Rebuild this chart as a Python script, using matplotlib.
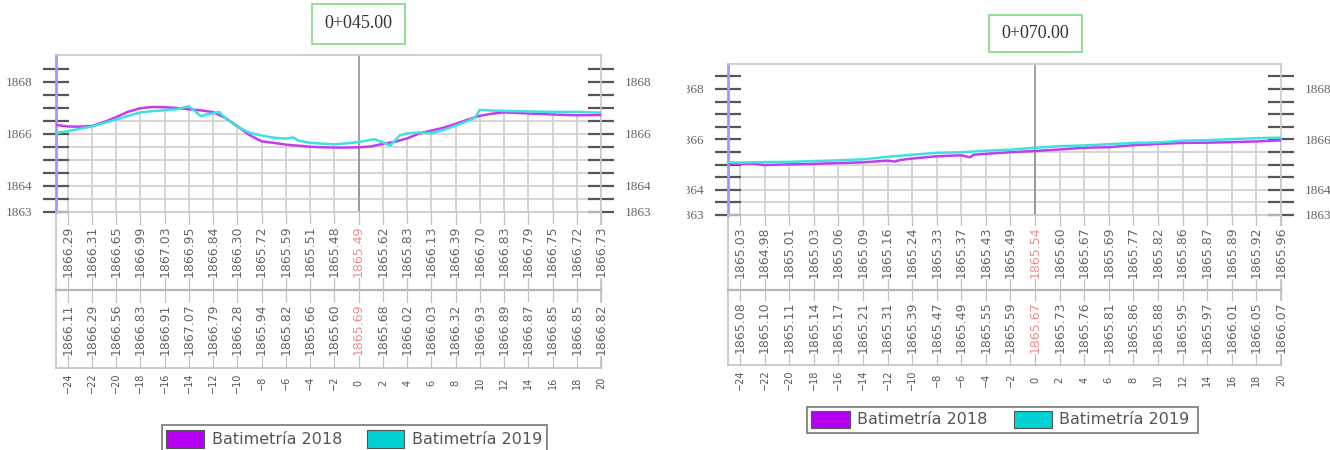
import numpy as np
import matplotlib.pyplot as plt
from matplotlib.patches import Rectangle, Polygon
from matplotlib.transforms import blended_transform_factory, Bbox, TransformedBbox

W, H = 1330, 450

# stations along the cross sections (m)
stations = list(range(-24, 21, 2))

# section 0+045.00 : elevations printed in the table
sec1_tab_2018 = [1866.29, 1866.31, 1866.65, 1866.99, 1867.03, 1866.95, 1866.84, 1866.30,
                 1865.72, 1865.59, 1865.51, 1865.48, 1865.49, 1865.62, 1865.83, 1866.13,
                 1866.39, 1866.70, 1866.83, 1866.79, 1866.75, 1866.72, 1866.73]
sec1_tab_2019 = [1866.11, 1866.29, 1866.56, 1866.83, 1866.91, 1867.07, 1866.79, 1866.28,
                 1865.94, 1865.82, 1865.66, 1865.60, 1865.69, 1865.68, 1866.02, 1866.03,
                 1866.32, 1866.93, 1866.89, 1866.87, 1866.85, 1866.85, 1866.82]

# section 0+045.00 : surveyed profiles
sec1_x_2018 = [-25, -24, -23, -22, -21, -20, -19, -18, -17, -16, -15, -14, -13, -12, -11,
               -10, -9, -8, -7, -6, -5, -4, -3, -2, -1, 0, 1, 2, 3, 4, 5, 6, 7, 8, 9, 10,
               11, 12, 14, 16, 18, 20]
sec1_z_2018 = [1866.35, 1866.29, 1866.28, 1866.31, 1866.46, 1866.65, 1866.86, 1866.99,
               1867.04, 1867.03, 1867.00, 1866.95, 1866.91, 1866.84, 1866.62, 1866.30,
               1865.96, 1865.72, 1865.66, 1865.59, 1865.55, 1865.51, 1865.49, 1865.48,
               1865.48, 1865.49, 1865.52, 1865.62, 1865.70, 1865.83, 1866.02, 1866.13,
               1866.24, 1866.39, 1866.55, 1866.70, 1866.78, 1866.83, 1866.79, 1866.75,
               1866.72, 1866.73]
sec1_x_2019 = [-25, -24, -23, -22, -21, -20, -19, -18, -17, -16, -15, -14, -13, -12.5, -12,
               -11.5, -11, -10, -9, -8, -7, -6, -5.4, -5, -4, -3, -2, -1, 0, 1.3, 2, 2.6,
               3.4, 4, 5, 6, 7, 8, 9, 9.6, 10, 11, 12, 14, 16, 18, 20]
sec1_z_2019 = [1866.03, 1866.11, 1866.20, 1866.29, 1866.42, 1866.56, 1866.70, 1866.83,
               1866.88, 1866.91, 1866.95, 1867.07, 1866.68, 1866.76, 1866.79, 1866.85,
               1866.62, 1866.28, 1866.05, 1865.94, 1865.86, 1865.82, 1865.87, 1865.75,
               1865.66, 1865.63, 1865.60, 1865.64, 1865.69, 1865.80, 1865.68, 1865.55,
               1865.95, 1866.02, 1866.06, 1866.03, 1866.15, 1866.32, 1866.50, 1866.62,
               1866.93, 1866.90, 1866.89, 1866.87, 1866.85, 1866.85, 1866.82]

# section 0+070.00 : elevations printed in the table
sec2_tab_2018 = [1865.03, 1864.98, 1865.01, 1865.03, 1865.06, 1865.09, 1865.16, 1865.24,
                 1865.33, 1865.37, 1865.43, 1865.49, 1865.54, 1865.60, 1865.67, 1865.69,
                 1865.77, 1865.82, 1865.86, 1865.87, 1865.89, 1865.92, 1865.96]
sec2_tab_2019 = [1865.08, 1865.10, 1865.11, 1865.14, 1865.17, 1865.21, 1865.31, 1865.39,
                 1865.47, 1865.49, 1865.55, 1865.59, 1865.67, 1865.73, 1865.76, 1865.81,
                 1865.86, 1865.88, 1865.95, 1865.97, 1866.01, 1866.05, 1866.07]

# section 0+070.00 : surveyed profiles
sec2_x_2018 = [-25, -24, -23, -22, -20, -18, -16, -14, -12, -11.4, -11, -10, -8, -6, -5.3,
               -5, -4, -2, 0, 2, 4, 6, 8, 10, 12, 14, 16, 18, 20]
sec2_z_2018 = [1865.05, 1865.03, 1865.04, 1864.98, 1865.01, 1865.03, 1865.06, 1865.09,
               1865.16, 1865.12, 1865.18, 1865.24, 1865.33, 1865.37, 1865.29, 1865.39,
               1865.43, 1865.49, 1865.54, 1865.60, 1865.67, 1865.69, 1865.77, 1865.82,
               1865.86, 1865.87, 1865.89, 1865.92, 1865.96]
sec2_x_2019 = [-25] + stations
sec2_z_2019 = [1865.09] + sec2_tab_2019

C2018 = '#c23cf2'
C2019 = '#3fe0e0'
GREY_TXT = '#666666'

fig = plt.figure(figsize=(W / 100, H / 100), dpi=100)


def fx(px):
    return px / W


def fy(py):
    return 1 - py / H


def fig_rect(x0, y0, x1, y1, **kw):
    r = Rectangle((fx(x0), fy(y1)), fx(x1) - fx(x0), fy(y0) - fy(y1),
                  transform=fig.transFigure, **kw)
    fig.add_artist(r)
    return r


def draw_section(box, ymax, mid_y, bot_y, lab_y, title, title_box,
                 x18, z18, x19, z19, tab18, tab19, legend, clip_left=None):
    left, top, right, bottom = box
    ax = fig.add_axes([fx(left), fy(bottom), fx(right) - fx(left), fy(top) - fy(bottom)])
    ax.set_xlim(-25, 20)
    ax.set_ylim(1863, ymax)

    # grid only below the ground line
    xs = np.union1d(x18, x19)
    env = np.minimum(np.interp(xs, x18, z18), np.interp(xs, x19, z19))
    ground = Polygon(np.column_stack([np.r_[xs, 20, -25], np.r_[env, 1863, 1863]]),
                     closed=True, transform=ax.transData, fc='none', ec='none')
    ax.add_patch(ground)
    vl = ax.vlines(stations, 1863, ymax, colors='#d2d2d2', lw=1.3, zorder=1)
    vl.set_clip_path(ground)
    hl = ax.hlines(np.arange(1863.5, 1869, 0.5), -25, 20, colors='#d2d2d2', lw=1.3, zorder=1)
    hl.set_clip_path(ground)

    ax.axvline(0, color='#8a8a8a', lw=1.1, zorder=2)

    ax.plot(x18, z18, color=C2018, lw=1.8, zorder=3)
    ax.plot(x19, z19, color=C2019, lw=1.8, zorder=4)

    for side in ('top', 'bottom', 'right'):
        ax.spines[side].set_color('#c8c8c8')
        ax.spines[side].set_linewidth(1.2)
    ax.spines['left'].set_color('#9a9aff')
    ax.spines['left'].set_linewidth(2)

    ax.set_xticks([])
    yt = np.arange(1863, 1869, 0.5)
    ax.set_yticks(yt)
    ax.set_yticklabels([f'{v:.0f}' if v in (1863, 1864, 1866, 1868) else '' for v in yt],
                       fontfamily='Liberation Serif')
    ax.tick_params(axis='y', direction='inout', length=19, width=1.6, color='#555555',
                   left=True, right=True, labelleft=True, labelright=True, pad=7.5,
                   labelsize=9.5, labelcolor=GREY_TXT)
    if clip_left is not None:
        cb = TransformedBbox(Bbox.from_extents(fx(clip_left), 0, 1, 1), fig.transFigure)
        for t in ax.yaxis.get_major_ticks():
            t.label1.set_clip_on(True)
            t.label1.set_clip_box(cb)

    # elevation table under the plot
    tr = blended_transform_factory(ax.transData, fig.transFigure)
    frame = dict(transform=tr, clip_on=False, color='#c4c4c4', lw=1.2)
    ax.plot([-25, -25], [fy(bottom), fy(bot_y)], **frame)
    ax.plot([20, 20], [fy(bottom), fy(bot_y)], **frame)
    ax.plot([-25, 20], [fy(bot_y), fy(bot_y)], **frame)
    ax.plot([-25, 20], [fy(mid_y), fy(mid_y)], transform=tr, clip_on=False,
            color='#b4b4b4', lw=1.6)
    for s in stations:
        ax.plot([s, s], [fy(bottom), fy(bot_y)], transform=tr, clip_on=False,
                color='#c0c0c0', lw=0.9)

    row1 = (bottom + mid_y) / 2
    row2 = (mid_y + bot_y) / 2
    for s, v18, v19 in zip(stations, tab18, tab19):
        col = '#f28c8c' if s == 0 else GREY_TXT
        for yrow, v in ((row1, v18), (row2, v19)):
            ax.text(s, fy(yrow), f'{v:.2f}', transform=tr, rotation=90, ha='center',
                    va='center', fontsize=9, color=col, family='DejaVu Sans',
                    clip_on=False, bbox=dict(fc='white', ec='none', pad=0.5))
        ax.text(s, fy(lab_y), f'{s}'.replace('-', '\u2212'), transform=tr, rotation=90,
                ha='center', va='center', fontsize=7, color='#555555', clip_on=False)

    # section title
    x0, y0, x1, y1 = title_box
    fig_rect(x0, y0, x1, y1, fc='white', ec='#88de88', lw=1.3)
    fig.text(fx((x0 + x1) / 2), fy((y0 + y1) / 2), title, ha='center', va='center',
             fontsize=13, family='Liberation Serif', color='#333333')

    # legend
    (bx0, by0, bx1, by1), patches = legend
    fig_rect(bx0, by0, bx1, by1, fc='white', ec='#8a8a8a', lw=1.4)
    for (px0, py0, px1, py1, tx), col, name in zip(patches, (C2018, '#00d2d2'),
                                                    ('Batimetría 2018', 'Batimetría 2019')):
        fig_rect(px0, py0, px1, py1, fc=col if col != C2018 else '#b600f4',
                 ec='#555555', lw=0.8)
        fig.text(fx(tx), fy((py0 + py1) / 2), name, ha='left', va='center',
                 fontsize=11.5, family='DejaVu Sans', color='#555555')
    return ax


draw_section((55.6, 55, 601, 212), 1863 + 157 / 26, 290, 368, 383, '0+045.00',
             (312, 4, 405, 44), sec1_x_2018, sec1_z_2018, sec1_x_2019, sec1_z_2019,
             sec1_tab_2018, sec1_tab_2019,
             ((162, 425, 547, 451), [(166, 430, 204, 448, 212), (367, 430, 404, 448, 412)]))

draw_section((727.7, 64, 1281, 215), 1863 + 151 / 25.2, 290, 365, 380, '0+070.00',
             (989, 15, 1082, 52), sec2_x_2018, sec2_z_2018, sec2_x_2019, sec2_z_2019,
             sec2_tab_2018, sec2_tab_2019,
             ((807, 407, 1198, 433), [(811, 411, 850, 428, 857), (1014, 411, 1052, 428, 1059)]),
             clip_left=687)

fig.savefig('out.png', dpi=100)
